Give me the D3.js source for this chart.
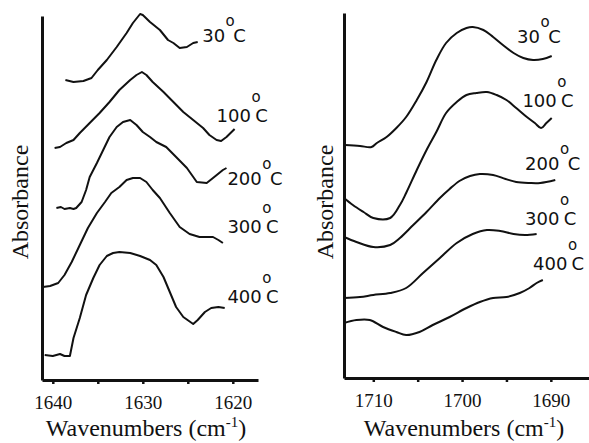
<!DOCTYPE html>
<html>
<head>
<meta charset="utf-8">
<script src="https://cdn.jsdelivr.net/npm/d3@7"></script>
<style>
    body { margin: 0; background: #fff; }
    svg { display: block; }
</style>
</head>
<body>
<svg id="chart" width="589" height="443"></svg>
<script>
// spectra are stacked top to bottom in this order
var temperatures = ["30", "100", "200", "300", "400"]
// "100 °C" style (degree raised above C) or "30°C" style (degree tucked)
var degree_spaced = [false, true, false, true, true]

// left panel: [wavenumber cm-1, absorbance a.u. (offset)]
var left_30 = [[1638.6, 3.00], [1637.7, 2.98], [1636.6, 2.99], [1635.7, 3.02], [1635.0, 3.10], [1634.0, 3.20],
    [1632.9, 3.33], [1631.8, 3.47], [1631.1, 3.57], [1630.3, 3.66], [1630.0, 3.65], [1629.2, 3.58], [1628.1, 3.50],
    [1627.2, 3.40], [1626.6, 3.37], [1625.9, 3.32], [1625.1, 3.33], [1624.4, 3.37], [1623.9, 3.38]]
var left_100 = [[1639.8, 2.32], [1639.2, 2.33], [1638.5, 2.37], [1637.7, 2.40], [1637.0, 2.47], [1635.9, 2.57],
    [1634.8, 2.67], [1633.7, 2.78], [1632.6, 2.90], [1631.4, 3.00], [1630.7, 3.05], [1630.1, 3.08], [1629.6, 3.05],
    [1628.9, 2.98], [1627.7, 2.88], [1626.6, 2.78], [1625.5, 2.68], [1624.4, 2.60], [1623.3, 2.52], [1622.6, 2.45],
    [1621.8, 2.40], [1621.3, 2.39], [1620.7, 2.43], [1619.8, 2.51]]
var left_200 = [[1639.6, 1.72], [1639.1, 1.73], [1638.7, 1.71], [1638.1, 1.72], [1637.7, 1.71], [1637.4, 1.72],
    [1636.8, 1.78], [1636.3, 1.90], [1635.9, 2.03], [1635.1, 2.17], [1634.4, 2.30], [1633.7, 2.43], [1632.9, 2.53],
    [1632.2, 2.58], [1631.4, 2.60], [1630.7, 2.55], [1630.0, 2.48], [1629.2, 2.43], [1628.5, 2.38], [1627.4, 2.33],
    [1626.3, 2.23], [1625.1, 2.12], [1624.0, 1.98], [1622.9, 1.97], [1622.2, 2.02], [1621.1, 2.10], [1620.7, 2.12]]
var left_300 = [[1641.1, 0.93], [1640.3, 0.94], [1639.4, 0.97], [1638.7, 1.05], [1637.9, 1.18], [1637.0, 1.35],
    [1636.1, 1.52], [1635.1, 1.67], [1634.2, 1.78], [1633.5, 1.87], [1632.6, 1.93], [1631.8, 2.00], [1631.1, 2.02],
    [1630.3, 2.02], [1629.6, 1.98], [1628.9, 1.90], [1628.1, 1.82], [1627.0, 1.67], [1625.9, 1.53], [1624.8, 1.46],
    [1623.7, 1.43], [1622.2, 1.43], [1621.6, 1.40], [1621.1, 1.37]]
var left_400 = [[1640.9, 0.25], [1640.0, 0.24], [1639.2, 0.26], [1638.7, 0.24], [1638.1, 0.24], [1637.7, 0.42],
    [1637.0, 0.62], [1636.3, 0.85], [1635.5, 1.02], [1634.8, 1.15], [1634.0, 1.24], [1633.3, 1.27], [1632.6, 1.28],
    [1631.4, 1.27], [1630.3, 1.24], [1629.2, 1.20], [1628.5, 1.15], [1627.7, 1.03], [1627.0, 0.88], [1626.3, 0.73],
    [1625.5, 0.63], [1624.4, 0.56], [1623.9, 0.60], [1623.1, 0.68], [1622.4, 0.72], [1621.6, 0.73], [1620.9, 0.72]]

// right panel
var right_30 = [[1713.2, 2.33], [1711.5, 2.32], [1710.2, 2.31], [1709.6, 2.35], [1708.5, 2.41], [1707.4, 2.50],
    [1706.3, 2.61], [1705.1, 2.78], [1704.0, 2.96], [1702.9, 3.18], [1701.8, 3.35], [1700.6, 3.45], [1699.5, 3.50],
    [1698.8, 3.51], [1697.6, 3.48], [1696.5, 3.41], [1695.4, 3.33], [1694.2, 3.25], [1693.1, 3.20], [1692.0, 3.18],
    [1690.9, 3.19], [1689.9, 3.22]]
var right_100 = [[1713.3, 1.80], [1712.3, 1.73], [1711.1, 1.66], [1710.0, 1.60], [1708.1, 1.60], [1707.0, 1.73],
    [1706.3, 1.85], [1705.1, 2.08], [1704.0, 2.28], [1702.9, 2.46], [1701.8, 2.65], [1700.6, 2.76], [1699.5, 2.83],
    [1698.4, 2.85], [1697.2, 2.86], [1696.1, 2.83], [1695.0, 2.78], [1693.9, 2.70], [1692.7, 2.61], [1691.8, 2.55],
    [1691.1, 2.50], [1690.5, 2.55], [1689.9, 2.60]]
var right_200 = [[1713.3, 1.41], [1711.9, 1.36], [1710.0, 1.31], [1708.1, 1.33], [1707.0, 1.40], [1705.5, 1.53],
    [1704.0, 1.66], [1702.5, 1.80], [1701.4, 1.89], [1700.3, 1.97], [1699.1, 2.02], [1698.0, 2.04], [1696.5, 2.03],
    [1695.1, 1.99], [1693.9, 1.96], [1692.4, 1.95], [1691.2, 1.95], [1689.5, 1.98]]
var right_300 = [[1713.3, 0.80], [1711.5, 0.81], [1710.0, 0.83], [1708.1, 0.85], [1706.3, 0.90], [1704.4, 1.05],
    [1702.5, 1.20], [1700.6, 1.35], [1698.8, 1.44], [1697.2, 1.48], [1695.7, 1.47], [1694.2, 1.44], [1692.9, 1.43],
    [1691.6, 1.44]]
var right_400 = [[1713.3, 0.55], [1711.9, 0.58], [1710.4, 0.58], [1708.9, 0.51], [1707.4, 0.46], [1706.3, 0.43],
    [1704.8, 0.46], [1703.3, 0.53], [1701.4, 0.61], [1699.5, 0.70], [1698.0, 0.76], [1696.5, 0.80], [1695.0, 0.81],
    [1693.5, 0.85], [1692.4, 0.90], [1691.6, 0.95], [1690.9, 0.98]]

var left_ticks = [1640, 1635, 1630, 1625, 1620]
var left_tick_labels = ["1640", "", "1630", "", "1620"]
var right_ticks = [1710, 1705, 1700, 1695, 1690]
var right_tick_labels = ["1710", "", "1700", "", "1690"]

// where each temperature label starts (data units)
var left_label_at = [[1623.4, 3.38], [1621.8, 2.58], [1620.6, 1.95], [1620.6, 1.47], [1620.6, 0.77]]
var right_label_at = [[1693.8, 3.35], [1693.2, 2.71], [1692.9, 2.08], [1692.9, 1.53], [1692.0, 1.08]]

var serif_font = "'Liberation Serif', 'DejaVu Serif', serif"
var sans_font = "'DejaVu Sans', Verdana, sans-serif"

var svg = d3.select("#chart")

var panels = [
    { "series": [left_30, left_100, left_200, left_300, left_400], "ticks": left_ticks, "tick_labels": left_tick_labels,
      "label_at": left_label_at, "x_domain": [1641.2, 1617.2], "x_range": [42, 258], "y_domain": [0, 3.64], "y_range": [380, 16],
      "curve": d3.curveLinear, "title_x": 146, "ylabel_x": 28 },
    { "series": [right_30, right_100, right_200, right_300, right_400], "ticks": right_ticks, "tick_labels": right_tick_labels,
      "label_at": right_label_at, "x_domain": [1713.3, 1685.7], "x_range": [344, 589], "y_domain": [0, 3.65], "y_range": [378, 13],
      "curve": d3.curveCatmullRom, "title_x": 464, "ylabel_x": 333 }
]

function draw_panel(p) {
    var x = d3.scaleLinear().domain(p.x_domain).range(p.x_range)
    var y = d3.scaleLinear().domain(p.y_domain).range(p.y_range)
    var g = svg.append("g")

    // spectra
    var line = d3.line().curve(p.curve).x(function (d) { return x(d[0]) }).y(function (d) { return y(d[1]) })
    g.selectAll("path.spectrum")
        .data(p.series)
        .enter()
        .append("path")
        .attr("class", "spectrum")
        .attr("d", line)
        .attr("fill", "none")
        .attr("stroke", "#111")
        .attr("stroke-width", 2)
        .attr("stroke-linejoin", "round")

    // x axis
    var xa = g.append("g")
        .attr("transform", `translate(0, ${p.y_range[0]})`)
        .call(d3.axisBottom(x).tickValues(p.ticks).tickSize(4).tickSizeOuter(0)
            .tickFormat(function (d, i) { return p.tick_labels[i] }))
    xa.attr("font-family", serif_font).attr("font-size", 19)
    xa.select(".domain").attr("stroke", "#111").attr("stroke-width", 3)
    xa.selectAll(".tick line").attr("stroke", "#111").attr("stroke-width", 2.5)
    xa.selectAll(".tick text").attr("y", 29).attr("dy", null).attr("fill", "#111")

    // y axis, no ticks
    var ya = g.append("g")
        .attr("transform", `translate(${p.x_range[0]}, 0)`)
        .call(d3.axisLeft(y).tickValues([]).tickSizeOuter(0))
    ya.select(".domain").attr("stroke", "#111").attr("stroke-width", 3)

    // temperature labels
    p.label_at.forEach(function (pos, i) {
        var spaced = degree_spaced[i]
        var t = g.append("text")
            .attr("font-family", sans_font)
            .attr("font-size", 18)
            .attr("fill", "#111")
            .attr("x", x(pos[0]))
            .attr("y", y(pos[1]))
        t.append("tspan").text(temperatures[i])
        t.append("tspan").attr("font-size", 15).attr("dy", spaced ? -20 : -16).attr("dx", 0.5).text("o")
        t.append("tspan").attr("dy", spaced ? 20 : 16).attr("dx", spaced ? -5.5 : -1.5).text("C")
    })

    // axis titles
    var tt = g.append("text")
        .attr("font-family", serif_font)
        .attr("font-size", 24)
        .attr("fill", "#111")
        .attr("x", p.title_x)
        .attr("y", 436)
        .attr("text-anchor", "middle")
    tt.append("tspan").text("Wavenumbers (cm")
    tt.append("tspan").attr("font-size", 15).attr("dy", -9).text("-1")
    tt.append("tspan").attr("dy", 9).text(")")

    g.append("text")
        .attr("font-family", serif_font)
        .attr("font-size", 24)
        .attr("fill", "#111")
        .attr("transform", `translate(${p.ylabel_x}, 202) rotate(-90)`)
        .attr("text-anchor", "middle")
        .text("Absorbance")
}

panels.forEach(draw_panel)
</script>
</body>
</html>
